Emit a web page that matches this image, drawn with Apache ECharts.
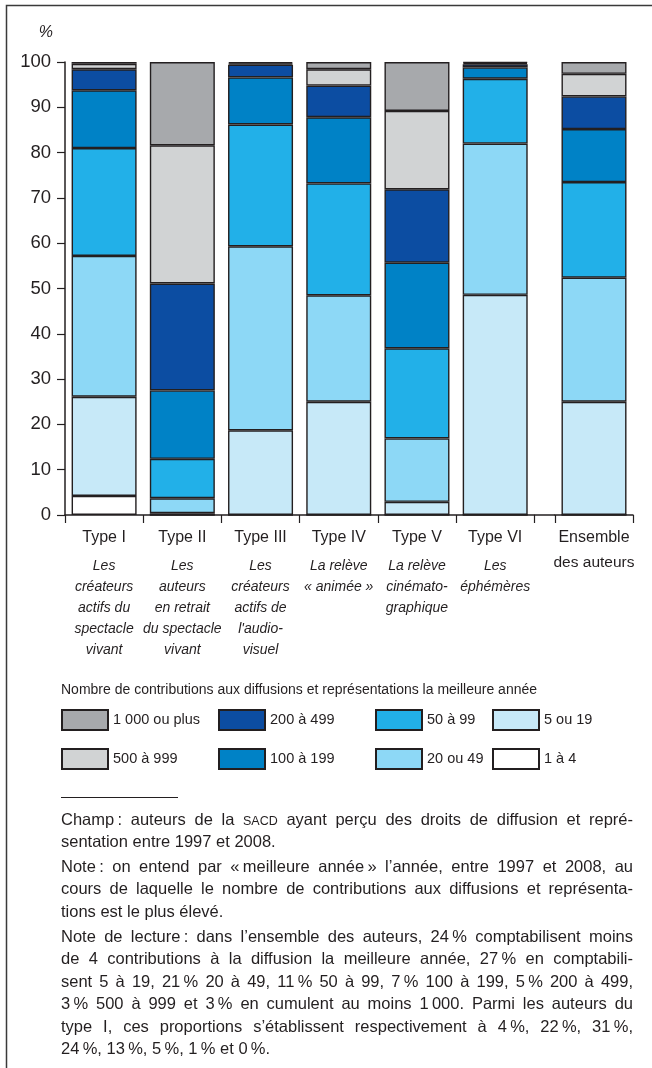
<!DOCTYPE html>
<html>
<head>
<meta charset="utf-8">
<script src="https://cdn.jsdelivr.net/npm/echarts@6/dist/echarts.min.js"></script>
<style>
html,body{margin:0;padding:0;background:#fff;}
#c{width:652px;height:1068px;}
</style>
</head>
<body>
<div id="c"></div>
<script>
// ---------- DATA ----------
const categories = ["Type I", "Type II", "Type III", "Type IV", "Type V", "Type VI", "Ensemble des auteurs"];
const subtitles = [
  ["Les", "créateurs", "actifs du", "spectacle", "vivant"],
  ["Les", "auteurs", "en retrait", "du spectacle", "vivant"],
  ["Les", "créateurs", "actifs de", "l'audio-", "visuel"],
  ["La relève", "«\u00a0animée\u00a0»"],
  ["La relève", "cinémato-", "graphique"],
  ["Les", "éphémères"],
  []
];
const seriesNames = ["1 à 4", "5 ou 19", "20 ou 49", "50 à 99", "100 à 199", "200 à 499", "500 à 999", "1 000 ou plus"];
const v1to4     = [4.2,   0,    0,    0,    0,    0,    0];
const v5to19    = [21.9,  0.4,  18.7, 25.0, 2.9,  48.6, 25.0];
const v20to49   = [31.1,  3.3,  40.6, 23.5, 14.0, 33.4, 27.4];
const v50to99   = [23.8,  8.7,  26.9, 24.7, 19.9, 14.3, 21.1];
const v100to199 = [12.75, 15.1, 10.4, 14.6, 18.9, 2.5,  11.7];
const v200to499 = [4.65,  23.6, 2.8,  7.0,  16.2, 0.7,  7.2];
const v500to999 = [1.2,   30.5, 0.3,  3.6,  17.3, 0.3,  5.0];
const v1000plus = [0.4,   18.4, 0.3,  1.6,  10.8, 0.2,  2.6];
const yTickValues = [0, 10, 20, 30, 40, 50, 60, 70, 80, 90, 100];

const legendTitle = "Nombre de contributions aux diffusions et représentations la meilleure année";
const notes = [
  ["Champ\u202f: auteurs de la SACD ayant perçu des droits de diffusion et repré-",
   "sentation entre 1997 et 2008."],
  ["Note\u202f: on entend par «\u202fmeilleure année\u202f» l’année, entre 1997 et 2008, au",
   "cours de laquelle le nombre de contributions aux diffusions et représenta-",
   "tions est le plus élevé."],
  ["Note de lecture\u202f: dans l’ensemble des auteurs, 24\u202f% comptabilisent moins",
   "de 4 contributions à la diffusion la meilleure année, 27\u202f% en comptabili-",
   "sent 5 à 19, 21\u202f% 20 à 49, 11\u202f% 50 à 99, 7\u202f% 100 à 199, 5\u202f% 200 à 499,",
   "3\u202f% 500 à 999 et 3\u202f% en cumulent au moins 1\u202f000. Parmi les auteurs du",
   "type I, ces proportions s’établissent respectivement à 4\u202f%, 22\u202f%, 31\u202f%,",
   "24\u202f%, 13\u202f%, 5\u202f%, 1\u202f% et 0\u202f%."]
];

// ---------- STYLE / LAYOUT ----------
const INK = '#231F20';
const FONT = '"Liberation Sans", Arial, sans-serif';
const colors = ['#FFFFFF', '#C7E9F8', '#8DD8F6', '#22B0E8', '#0082C6', '#0C4DA2', '#D1D3D4', '#A7A9AC'];
const N_TYPES = 6; // Type I..VI in the first panel, "Ensemble" in the second
const AXIS_Y = 515, GRID_TOP = 62, GRID_BOTTOM = 1068 - AXIS_Y;
const P1_LEFT = 65, P1_RIGHT = 534.3, P2_LEFT = 555, P2_RIGHT = 633;

const allValues = [v1to4, v5to19, v20to49, v50to99, v100to199, v200to499, v500to999, v1000plus];
function barSeries(k, panel) {
  const vals = panel === 0 ? allValues[k].slice(0, N_TYPES) : allValues[k].slice(N_TYPES);
  return {
    name: seriesNames[k], type: 'bar', stack: 'p' + panel,
    xAxisIndex: panel, yAxisIndex: panel,
    barWidth: 65, data: vals,
    itemStyle: { color: colors[k], borderColor: INK, borderWidth: 1.4 },
    emphasis: { disabled: true }, silent: true
  };
}
const series = [];
for (let k = 0; k < allValues.length; k++) { series.push(barSeries(k, 0)); series.push(barSeries(k, 1)); }

function labelFor(name) {
  const i = categories.indexOf(name);
  if (subtitles[i].length === 0) {
    const parts = name.split(' des ');
    return '{t|' + parts[0] + '}\n{e|des ' + parts[1] + '}';
  }
  return '{t|' + name + '}\n' + subtitles[i].map(s => '{s|' + s + '}').join('\n');
}
const labelRich = {
  t: { fontFamily: FONT, fontSize: 16, lineHeight: 36, color: INK },
  e: { fontFamily: FONT, fontSize: 15.5, lineHeight: 14, color: INK },
  s: { fontFamily: FONT, fontSize: 14, fontStyle: 'italic', lineHeight: 21, color: INK }
};
function xAxisFor(panel) {
  return {
    gridIndex: panel, type: 'category',
    data: panel === 0 ? categories.slice(0, N_TYPES) : categories.slice(N_TYPES),
    axisLine: { show: true, lineStyle: { color: INK, width: 1.5 } },
    axisTick: { show: true, length: 8, lineStyle: { color: INK, width: 1.2 } },
    axisLabel: { interval: 0, margin: 5, formatter: labelFor, rich: labelRich }
  };
}

// ---------- NOTES (justified) ----------
const ctx = document.createElement('canvas').getContext('2d');
const NOTE_SIZE = 16.5, SC_SIZE = 12.5;
const NOTE_FONT = NOTE_SIZE + 'px "Liberation Sans"';
const SC_FONT = SC_SIZE + 'px "Liberation Sans"';
function wordFont(w) { return w === 'SACD' ? SC_FONT : NOTE_FONT; }
function measure(w) { ctx.font = wordFont(w); return ctx.measureText(w).width; }
const NOTE_LEFT = 61, NOTE_RIGHT = 633;
const lineY = [[820, 842.5], [867, 889.5, 912], [937, 959.5, 982, 1004.5, 1027, 1049.5]];
const graphics = [];
notes.forEach((para, p) => {
  para.forEach((line, l) => {
    const words = line.split(' ');
    const widths = words.map(measure);
    const total = widths.reduce((a, b) => a + b, 0);
    const last = l === para.length - 1;
    ctx.font = NOTE_FONT;
    const gap = last ? ctx.measureText(' ').width : (NOTE_RIGHT - NOTE_LEFT - total) / (words.length - 1);
    let x = NOTE_LEFT;
    words.forEach((w, j) => {
      const sc = w === 'SACD';
      graphics.push({
        type: 'text', x: x, y: lineY[p][l] + (sc ? (NOTE_SIZE - SC_SIZE) * 0.3465 : 0), silent: true,
        style: { text: w, font: wordFont(w), fill: INK, textVerticalAlign: 'middle' }
      });
      x += widths[j] + gap;
    });
  });
});
// frame (left + top), axis line across the gap between the two panels, footnote separator
graphics.push({ type: 'polyline', silent: true, shape: { points: [[6.5, 1068], [6.5, 5.5], [652, 5.5]] }, style: { stroke: '#3a3a3a', lineWidth: 1.5, fill: null } });
graphics.push({ type: 'line', silent: true, shape: { x1: P1_RIGHT, y1: AXIS_Y, x2: P2_LEFT, y2: AXIS_Y }, style: { stroke: INK, lineWidth: 1.5 } });
graphics.push({ type: 'line', silent: true, shape: { x1: 61, y1: 797.5, x2: 178, y2: 797.5 }, style: { stroke: INK, lineWidth: 1 } });

// ---------- LEGENDS (one per column) ----------
const legendCols = [[7, 6], [5, 4], [3, 2], [1, 0]];
const legendLeft = [61, 218, 375, 492];
const legends = legendCols.map((col, c) => ({
  orient: 'vertical', left: legendLeft[c], top: 709, padding: 0,
  itemWidth: 46, itemHeight: 20, itemGap: 17, icon: 'rect',
  selectedMode: false,
  data: col.map(k => seriesNames[k]),
  textStyle: { fontFamily: FONT, fontSize: 14.5, color: INK }
}));

// ---------- CHART ----------
const chart = echarts.init(document.getElementById('c'));
chart.setOption({
  animation: false,
  backgroundColor: '#fff',
  title: {
    text: legendTitle, left: 61, top: 683, padding: 0,
    textStyle: { fontFamily: FONT, fontSize: 14, fontWeight: 'normal', color: INK }
  },
  legend: legends,
  grid: [
    { left: P1_LEFT, right: 652 - P1_RIGHT, top: GRID_TOP, bottom: GRID_BOTTOM, containLabel: false, outerBoundsMode: 'none' },
    { left: P2_LEFT, right: 652 - P2_RIGHT, top: GRID_TOP, bottom: GRID_BOTTOM, containLabel: false, outerBoundsMode: 'none' }
  ],
  xAxis: [xAxisFor(0), xAxisFor(1)],
  yAxis: [
    {
      gridIndex: 0, type: 'value', min: 0, max: 100, interval: 10,
      name: '%', nameLocation: 'end', nameGap: 21,
      nameTextStyle: { fontFamily: FONT, fontSize: 16, fontStyle: 'italic', color: INK, align: 'right', padding: [0, 12, 0, 0] },
      splitLine: { show: false },
      axisLine: { show: true, lineStyle: { color: INK, width: 1.5 } },
      axisTick: { show: true, length: 8, lineStyle: { color: INK, width: 1.2 } },
      axisLabel: { margin: 14, fontFamily: FONT, fontSize: 18.5, color: INK }
    },
    { gridIndex: 1, type: 'value', min: 0, max: 100, interval: 10, show: false }
  ],
  graphic: graphics,
  series: series
});
</script>
</body>
</html>
